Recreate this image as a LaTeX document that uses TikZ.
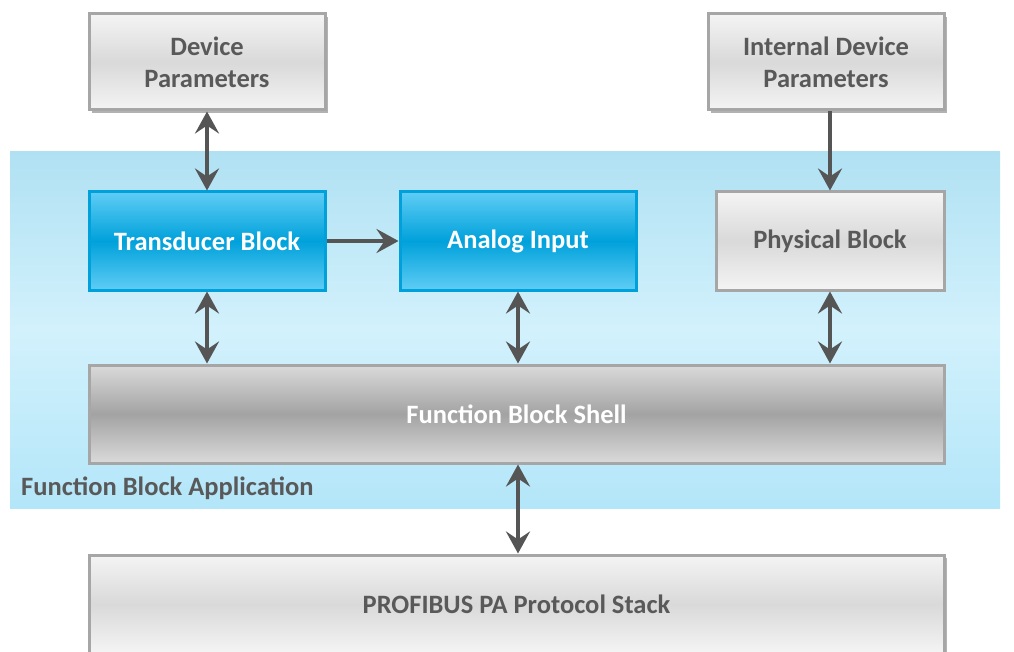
\documentclass[tikz,border=0pt]{standalone}
\usepackage{fontspec}
\setmainfont{Carlito}
\usetikzlibrary{arrows.meta,shadows,backgrounds}
\definecolor{txtgray}{HTML}{595959}
\definecolor{arrgray}{HTML}{555555}
\definecolor{grayborder}{HTML}{A6A6A6}
\definecolor{lgtop}{HTML}{F4F4F4}
\definecolor{lgmid}{HTML}{D9D9D9}
\definecolor{dgtop}{HTML}{DADADA}
\definecolor{dgmid}{HTML}{A3A3A3}
\definecolor{bltop}{HTML}{5FCDF5}
\definecolor{blmid}{HTML}{00A1DB}
\definecolor{blborder}{HTML}{00A0DB}
\definecolor{bgtop}{HTML}{B0E1F3}
\definecolor{bgmid}{HTML}{D2F1FC}
\definecolor{bgbot}{HTML}{B3E6F9}
\tikzset{
  box/.style={rectangle, line width=3pt, font=\bfseries\fontsize{26.5}{32}\selectfont,
    align=center, inner sep=0pt},
  graybox/.style={box, draw=grayborder, top color=lgtop, bottom color=lgtop,
    middle color=lgmid, text=txtgray},
  shellbox/.style={box, draw=grayborder, top color=dgtop, bottom color=dgtop,
    middle color=dgmid, text=white},
  bluebox/.style={box, draw=blborder, top color=bltop, bottom color=bltop,
    middle color=blmid, text=white},
  shadowed/.style={drop shadow={shadow xshift=3pt, shadow yshift=-3pt, opacity=0.3, fill=black}},
  conn/.style={draw=arrgray, line width=4pt,
    -{Stealth[length=22pt, width=24pt, inset=8pt, fill=arrgray]}},
  biconn/.style={draw=arrgray, line width=4pt,
    {Stealth[length=22pt, width=24pt, inset=8pt, fill=arrgray]}-{Stealth[length=22pt, width=24pt, inset=8pt, fill=arrgray]}},
}
\begin{document}
\begin{tikzpicture}[x=1pt, y=-1pt]
\useasboundingbox (0,0) rectangle (1014,652);
\clip (0,0) rectangle (1014,652);
% background region
\shade[top color=bgtop, bottom color=bgbot, middle color=bgmid] (10,152) rectangle (1000,508);
\node[anchor=west, font=\bfseries\fontsize{26.5}{32}\selectfont, text=txtgray, inner sep=0pt]
  (fba) at (21,488) {Function Block Application};

\node[graybox, shadowed, minimum width=236pt, minimum height=96pt] (dev) at (207,62) {Device\\Parameters};
\node[graybox, shadowed, minimum width=236pt, minimum height=96pt] (idev) at (826,62) {Internal Device\\Parameters};
\node[bluebox, minimum width=236pt, minimum height=98pt] (tb) at (207,241) {Transducer Block};
\node[bluebox, minimum width=236pt, minimum height=98pt] (ai) at (518,241) {Analog Input};
\node[graybox, minimum width=228pt, minimum height=98pt] (pb) at (830,241) {Physical Block};
\node[shellbox, minimum width=855pt, minimum height=98pt] (fbs) at (516.5,414) {Function Block Shell};
\node[graybox, shadowed, minimum width=855pt, minimum height=98pt] (prof) at (516.5,604) {PROFIBUS PA Protocol Stack};

\draw[biconn] (dev.south) -- (tb.north);
\draw[conn] (idev.south -| pb.north) -- (pb.north);
\draw[conn] (tb.east) -- (ai.west);
\draw[biconn] (tb.south) -- (tb.south |- fbs.north);
\draw[biconn] (ai.south) -- (ai.south |- fbs.north);
\draw[biconn] (pb.south) -- (pb.south |- fbs.north);
\draw[biconn] (ai.south |- fbs.south) -- (ai.south |- prof.north);
\end{tikzpicture}
\end{document}
